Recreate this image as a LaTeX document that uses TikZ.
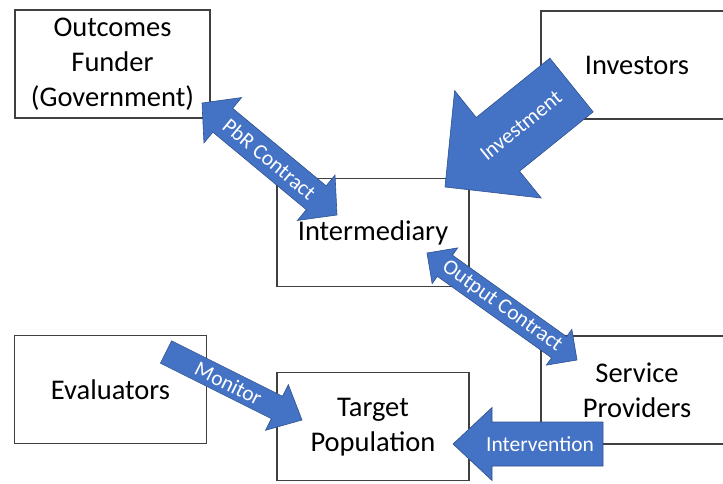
\documentclass[tikz,border=0pt]{standalone}
\usepackage{fontspec}
\setmainfont{Carlito}
\usetikzlibrary{calc}
\usetikzlibrary{positioning}

\definecolor{arrowblue}{HTML}{4472C4}
\definecolor{arrowedge}{HTML}{2F528F}
\definecolor{boxline}{HTML}{404040}

% block arrow with one head: name, tail, tip, half shaft, half head, head length
\newcommand{\onearrow}[6]{%
  \coordinate (#1-n) at ($(#3)!#6!(#2)$);
  \filldraw[blockarrow] ($(#2)!#4!90:(#3)$) -- ($(#1-n)!#4!90:(#3)$) -- ($(#1-n)!#5!90:(#3)$) -- (#3)
    -- ($(#1-n)!#5!-90:(#3)$) -- ($(#1-n)!#4!-90:(#3)$) -- ($(#2)!#4!-90:(#3)$) -- cycle;
}
% block arrow with two heads: name, end a, end b, half shaft, half head, head length
\newcommand{\twoarrow}[6]{%
  \coordinate (#1-a) at ($(#2)!#6!(#3)$);
  \coordinate (#1-b) at ($(#3)!#6!(#2)$);
  \filldraw[blockarrow] (#2) -- ($(#1-a)!#5!90:(#3)$) -- ($(#1-a)!#4!90:(#3)$) -- ($(#1-b)!#4!90:(#3)$)
    -- ($(#1-b)!#5!90:(#3)$) -- (#3) -- ($(#1-b)!#5!-90:(#3)$) -- ($(#1-b)!#4!-90:(#3)$)
    -- ($(#1-a)!#4!-90:(#3)$) -- ($(#1-a)!#5!-90:(#3)$) -- cycle;
}

\begin{document}
\begin{tikzpicture}[x=1pt,y=-1pt,
  box/.style={draw=boxline,line width=1.3pt,minimum width=192pt,minimum height=108pt,align=center,font=\fontsize{28.5}{35}\selectfont},
  blockarrow/.style={fill=arrowblue,draw=arrowedge,line width=0.6pt,line join=miter},
  lab/.style={text=white,font=\fontsize{21.5}{25}\selectfont,inner sep=0pt}]
  \useasboundingbox (0,0) rectangle (723,483);
  \clip (0,0) rectangle (723,483);

  \node[box,minimum width=195pt] (funder) at (112.5,64) {Outcomes\\Funder\\(Government)};
  \node[box] (investors) at (637,65) {Investors};
  \node[box] (inter) at (373,232.5) {Intermediary};
  \node[box] (eval) at (110.5,389.5) {Evaluators};
  \node[box,below=85pt of inter] (target) {Target\\Population};
  \node[box] (service) at (637,390) {Service\\Providers};

  % arrow ends
  \coordinate (pbrA) at (202,103);
  \coordinate (pbrB) at (337,215);
  \coordinate (invA) at (571.5,85);
  \coordinate (invB) at (445,187);
  \coordinate (outA) at (427,253);
  \coordinate (outB) at (577,360);
  \coordinate (monA) at (166,352);
  \coordinate (monB) at (302,420);
  \coordinate (intA) at (603,444);
  \coordinate (intB) at (453,444);

  \twoarrow{pbr}{pbrA}{pbrB}{15.5pt}{29.5pt}{27pt}
  \onearrow{inv}{invA}{invB}{34.5pt}{69pt}{68pt}
  \twoarrow{out}{outA}{outB}{13pt}{22pt}{22pt}
  \onearrow{mon}{monA}{monB}{12.5pt}{25.5pt}{28pt}
  \onearrow{int}{intA}{intB}{22pt}{36.5pt}{39pt}

  \path (pbrA) -- (pbrB) node[lab,midway,sloped]{PbR Contract};
  \path (invA) -- (invB) node[lab,pos=0.4,sloped]{Investment};
  \path (outA) -- (outB) node[lab,midway,sloped]{Output Contract};
  \path (monA) -- (monB) node[lab,pos=0.46,sloped]{Monitor};
  \path (intA) -- (intB) node[lab,pos=0.42,sloped]{Intervention};
\end{tikzpicture}
\end{document}
